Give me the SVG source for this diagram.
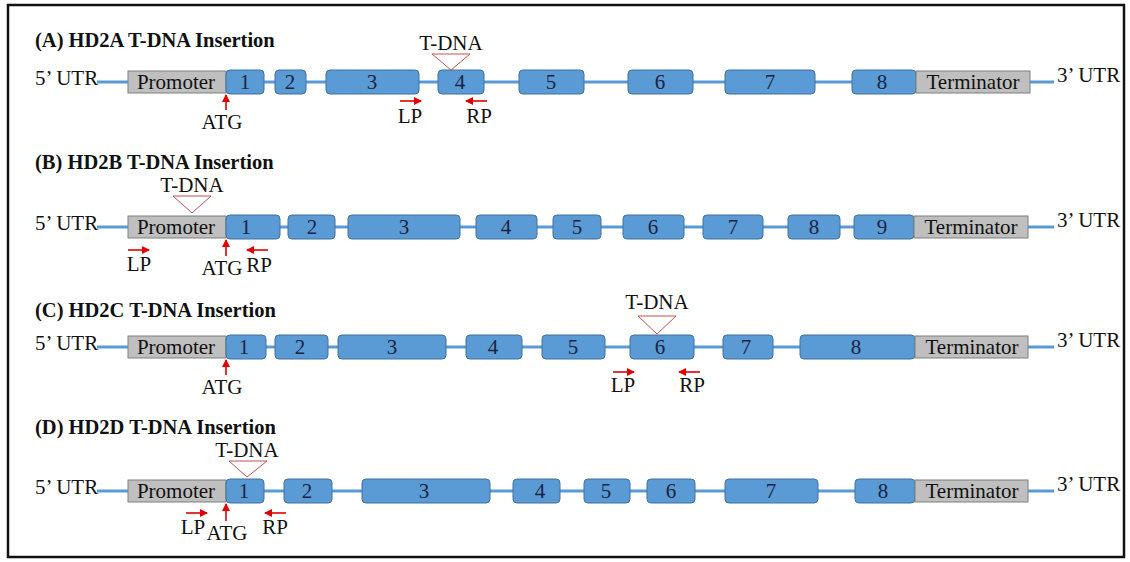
<svg xmlns="http://www.w3.org/2000/svg" width="1130" height="562" viewBox="0 0 1130 562">
  <style>
    .frame { fill: none; stroke: #111; stroke-width: 2.5; }
    .title { font-family: "Liberation Serif", "Times New Roman", serif; font-weight: bold; font-size: 20.5px; fill: #111; }
    .lbl { font-family: "Liberation Serif", "Times New Roman", serif; font-size: 21px; fill: #111; }
    .num { font-family: "Liberation Serif", "Times New Roman", serif; font-size: 21px; fill: #1c2340; text-anchor: middle; }
    .mid { text-anchor: middle; }
    .gene { stroke: #5b9bd5; stroke-width: 3; fill: none; }
    .exon { fill: #5b9bd5; stroke: #41719c; stroke-width: 1; }
    .reg { fill: #bfbfbf; stroke: #7f7f7f; stroke-width: 1; }
    .tdna { fill: none; stroke: #c0504d; stroke-width: 1; }
    .arr { stroke: #e00000; stroke-width: 1.6; fill: none; marker-end: url(#head); }
  </style>
  <defs>
    <marker id="head" markerWidth="9" markerHeight="9" refX="7" refY="4.5" orient="auto" markerUnits="userSpaceOnUse">
      <path d="M0,0.5 L8,4.5 L0,8.5 z" fill="#e00000"/>
    </marker>
  </defs>

  <rect width="1130" height="562" fill="#fff"/>
  <rect class="frame" x="8" y="5" width="1116" height="552"/>

  <!-- (A) HD2A -->
  <g id="panel-a">
    <text class="title" x="35" y="47">(A) HD2A T-DNA Insertion</text>
    <text class="lbl" x="35" y="85">5’ UTR</text>
    <text class="lbl" x="1057" y="82">3’ UTR</text>
    <g class="connectors"><line class="gene" x1="97" y1="82" x2="1054" y2="82"/></g>
    <g id="a-promoter"><rect class="reg" x="128" y="71" width="98" height="22"/><text class="lbl mid" x="176" y="89">Promoter</text></g>
    <g id="a-e1"><rect class="exon" x="226" y="70" width="38" height="24" rx="4"/><text class="num" x="245" y="89">1</text></g>
    <g id="a-e2"><rect class="exon" x="275" y="70" width="31" height="24" rx="4"/><text class="num" x="290" y="89">2</text></g>
    <g id="a-e3"><rect class="exon" x="326" y="70" width="93" height="24" rx="4"/><text class="num" x="372" y="89">3</text></g>
    <g id="a-e4"><rect class="exon" x="438" y="70" width="46" height="24" rx="4"/><text class="num" x="460" y="89">4</text></g>
    <g id="a-e5"><rect class="exon" x="519" y="70" width="65" height="24" rx="4"/><text class="num" x="551" y="89">5</text></g>
    <g id="a-e6"><rect class="exon" x="628" y="70" width="65" height="24" rx="4"/><text class="num" x="660" y="89">6</text></g>
    <g id="a-e7"><rect class="exon" x="725" y="70" width="90" height="24" rx="4"/><text class="num" x="770" y="89">7</text></g>
    <g id="a-e8"><rect class="exon" x="852" y="70" width="64" height="24" rx="4"/><text class="num" x="882" y="89">8</text></g>
    <g id="a-term"><rect class="reg" x="916" y="71" width="114" height="22"/><text class="lbl mid" x="973" y="89">Terminator</text></g>
    <g id="a-tdna"><text class="lbl mid" x="451" y="50">T-DNA</text><path class="tdna" d="M432,54 L470,54 L451,70 Z"/></g>
    <g id="a-atg"><line class="arr" x1="226" y1="110" x2="226" y2="95"/><text class="lbl mid" x="222" y="129">ATG</text></g>
    <g id="a-lp"><line class="arr" x1="400" y1="101" x2="421" y2="101"/><text class="lbl mid" x="410" y="123">LP</text></g>
    <g id="a-rp"><line class="arr" x1="487" y1="101" x2="466" y2="101"/><text class="lbl mid" x="479" y="123">RP</text></g>
  </g>

  <!-- (B) HD2B -->
  <g id="panel-b">
    <text class="title" x="35" y="169">(B) HD2B T-DNA Insertion</text>
    <text class="lbl" x="35" y="230">5’ UTR</text>
    <text class="lbl" x="1057" y="227">3’ UTR</text>
    <g class="connectors"><line class="gene" x1="97" y1="227" x2="1054" y2="227"/></g>
    <g id="b-promoter"><rect class="reg" x="128" y="216" width="98" height="22"/><text class="lbl mid" x="176" y="234">Promoter</text></g>
    <g id="b-e1"><rect class="exon" x="226" y="215" width="54" height="24" rx="4"/><text class="num" x="246" y="234">1</text></g>
    <g id="b-e2"><rect class="exon" x="288" y="215" width="47" height="24" rx="4"/><text class="num" x="312" y="234">2</text></g>
    <g id="b-e3"><rect class="exon" x="348" y="215" width="112" height="24" rx="4"/><text class="num" x="404" y="234">3</text></g>
    <g id="b-e4"><rect class="exon" x="476" y="215" width="61" height="24" rx="4"/><text class="num" x="506" y="234">4</text></g>
    <g id="b-e5"><rect class="exon" x="553" y="215" width="48" height="24" rx="4"/><text class="num" x="577" y="234">5</text></g>
    <g id="b-e6"><rect class="exon" x="623" y="215" width="61" height="24" rx="4"/><text class="num" x="653" y="234">6</text></g>
    <g id="b-e7"><rect class="exon" x="703" y="215" width="60" height="24" rx="4"/><text class="num" x="733" y="234">7</text></g>
    <g id="b-e8"><rect class="exon" x="788" y="215" width="52" height="24" rx="4"/><text class="num" x="814" y="234">8</text></g>
    <g id="b-e9"><rect class="exon" x="854" y="215" width="60" height="24" rx="4"/><text class="num" x="882" y="234">9</text></g>
    <g id="b-term"><rect class="reg" x="914" y="216" width="114" height="22"/><text class="lbl mid" x="971" y="234">Terminator</text></g>
    <g id="b-tdna"><text class="lbl mid" x="192" y="192">T-DNA</text><path class="tdna" d="M173,196 L211,196 L192,213 Z"/></g>
    <g id="b-lp"><line class="arr" x1="128" y1="250" x2="149" y2="250"/><text class="lbl mid" x="139" y="271">LP</text></g>
    <g id="b-atg"><line class="arr" x1="226" y1="256" x2="226" y2="240"/><text class="lbl mid" x="222" y="275">ATG</text></g>
    <g id="b-rp"><line class="arr" x1="268" y1="250" x2="247" y2="250"/><text class="lbl mid" x="259" y="272">RP</text></g>
  </g>

  <!-- (C) HD2C -->
  <g id="panel-c">
    <text class="title" x="35" y="317">(C) HD2C T-DNA Insertion</text>
    <text class="lbl" x="35" y="350">5’ UTR</text>
    <text class="lbl" x="1057" y="347">3’ UTR</text>
    <g class="connectors"><line class="gene" x1="97" y1="347" x2="1054" y2="347"/></g>
    <g id="c-promoter"><rect class="reg" x="128" y="336" width="98" height="22"/><text class="lbl mid" x="176" y="354">Promoter</text></g>
    <g id="c-e1"><rect class="exon" x="226" y="335" width="40" height="24" rx="4"/><text class="num" x="244" y="354">1</text></g>
    <g id="c-e2"><rect class="exon" x="275" y="335" width="53" height="24" rx="4"/><text class="num" x="300" y="354">2</text></g>
    <g id="c-e3"><rect class="exon" x="338" y="335" width="108" height="24" rx="4"/><text class="num" x="392" y="354">3</text></g>
    <g id="c-e4"><rect class="exon" x="466" y="335" width="56" height="24" rx="4"/><text class="num" x="493" y="354">4</text></g>
    <g id="c-e5"><rect class="exon" x="542" y="335" width="63" height="24" rx="4"/><text class="num" x="573" y="354">5</text></g>
    <g id="c-e6"><rect class="exon" x="630" y="335" width="64" height="24" rx="4"/><text class="num" x="660" y="354">6</text></g>
    <g id="c-e7"><rect class="exon" x="723" y="335" width="50" height="24" rx="4"/><text class="num" x="746" y="354">7</text></g>
    <g id="c-e8"><rect class="exon" x="800" y="335" width="115" height="24" rx="4"/><text class="num" x="856" y="354">8</text></g>
    <g id="c-term"><rect class="reg" x="915" y="336" width="113" height="22"/><text class="lbl mid" x="972" y="354">Terminator</text></g>
    <g id="c-tdna"><text class="lbl mid" x="657" y="309">T-DNA</text><path class="tdna" d="M638,316 L676,316 L657,334 Z"/></g>
    <g id="c-atg"><line class="arr" x1="226" y1="375" x2="226" y2="360"/><text class="lbl mid" x="222" y="394">ATG</text></g>
    <g id="c-lp"><line class="arr" x1="613" y1="372" x2="634" y2="372"/><text class="lbl mid" x="623" y="392">LP</text></g>
    <g id="c-rp"><line class="arr" x1="700" y1="372" x2="679" y2="372"/><text class="lbl mid" x="692" y="392">RP</text></g>
  </g>

  <!-- (D) HD2D -->
  <g id="panel-d">
    <text class="title" x="35" y="434">(D) HD2D T-DNA Insertion</text>
    <text class="lbl" x="35" y="494">5’ UTR</text>
    <text class="lbl" x="1057" y="491">3’ UTR</text>
    <g class="connectors"><line class="gene" x1="97" y1="491" x2="1054" y2="491"/></g>
    <g id="d-promoter"><rect class="reg" x="128" y="480" width="98" height="22"/><text class="lbl mid" x="176" y="498">Promoter</text></g>
    <g id="d-e1"><rect class="exon" x="226" y="479" width="38" height="24" rx="4"/><text class="num" x="244" y="498">1</text></g>
    <g id="d-e2"><rect class="exon" x="284" y="479" width="48" height="24" rx="4"/><text class="num" x="307" y="498">2</text></g>
    <g id="d-e3"><rect class="exon" x="362" y="479" width="128" height="24" rx="4"/><text class="num" x="424" y="498">3</text></g>
    <g id="d-e4"><rect class="exon" x="513" y="479" width="47" height="24" rx="4"/><text class="num" x="540" y="498">4</text></g>
    <g id="d-e5"><rect class="exon" x="584" y="479" width="46" height="24" rx="4"/><text class="num" x="606" y="498">5</text></g>
    <g id="d-e6"><rect class="exon" x="647" y="479" width="48" height="24" rx="4"/><text class="num" x="671" y="498">6</text></g>
    <g id="d-e7"><rect class="exon" x="725" y="479" width="93" height="24" rx="4"/><text class="num" x="771" y="498">7</text></g>
    <g id="d-e8"><rect class="exon" x="855" y="479" width="60" height="24" rx="4"/><text class="num" x="883" y="498">8</text></g>
    <g id="d-term"><rect class="reg" x="915" y="480" width="113" height="22"/><text class="lbl mid" x="972" y="498">Terminator</text></g>
    <g id="d-tdna"><text class="lbl mid" x="247" y="457">T-DNA</text><path class="tdna" d="M229,461 L267,461 L247,477 Z"/></g>
    <g id="d-lp"><line class="arr" x1="186" y1="513" x2="207" y2="513"/><text class="lbl mid" x="193" y="534">LP</text></g>
    <g id="d-atg"><line class="arr" x1="226" y1="521" x2="226" y2="504"/><text class="lbl mid" x="227" y="540">ATG</text></g>
    <g id="d-rp"><line class="arr" x1="286" y1="513" x2="265" y2="513"/><text class="lbl mid" x="275" y="534">RP</text></g>
  </g>
</svg>
